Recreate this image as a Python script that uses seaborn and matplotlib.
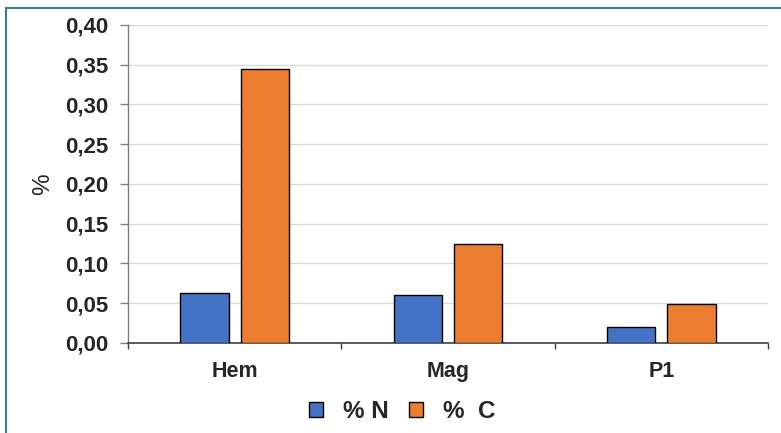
import matplotlib
matplotlib.use("Agg")
import matplotlib.pyplot as plt
from matplotlib.lines import Line2D
from matplotlib.ticker import FixedLocator, FuncFormatter
import seaborn as sns
import pandas as pd

# Sample groups and measured contents (%)
categories = ["Hem", "Mag", "P1"]
nitrogen = [0.063, 0.060, 0.020]
carbon = [0.345, 0.125, 0.049]
series_names = ["% N", "%  C"]
y_ticks = [0.00, 0.05, 0.10, 0.15, 0.20, 0.25, 0.30, 0.35, 0.40]

df = pd.DataFrame({
    "sample": categories * 2,
    "series": [series_names[0]] * len(categories) + [series_names[1]] * len(categories),
    "value": nitrogen + carbon,
})

sns.set_theme(style="white")
plt.rcParams["font.family"] = ["Liberation Sans", "DejaVu Sans"]
plt.rcParams["font.weight"] = "bold"

fig = plt.figure(figsize=(7.81, 4.33), dpi=100)
ax = fig.add_axes([0.1639, 0.2079, 0.8195, 0.7344])

palette = {series_names[0]: "#4472C4", series_names[1]: "#ED7D31"}
sns.barplot(data=df, x="sample", y="value", hue="series", palette=palette,
            width=0.567, gap=0.2, edgecolor="black", linewidth=1.0,
            saturation=1.0, ax=ax, zorder=3)

ax.set_xlim(-0.5, len(categories) - 0.5)
ax.set_ylim(0, 0.40)
ax.yaxis.set_major_locator(FixedLocator(y_ticks))
ax.yaxis.set_major_formatter(FuncFormatter(lambda v, _: f"{v:.2f}".replace(".", ",")))
ax.grid(axis="y", color="#D9D9D9", linewidth=1.0, zorder=0)
ax.set_axisbelow(True)

# Category labels centered, tick marks between categories
ax.xaxis.set_minor_locator(FixedLocator([-0.5, 0.5, 1.5, 2.5]))
ax.tick_params(axis="x", which="major", length=0, pad=13, labelsize=15.5)
ax.tick_params(axis="x", which="minor", bottom=True, length=4, width=1, color="#404040", direction="out")
ax.tick_params(axis="y", left=True, length=6, width=1, color="#808080", pad=8, labelsize=16, direction="out")
for lab in ax.get_xticklabels() + ax.get_yticklabels():
    lab.set_fontweight("bold")

for side in ("top", "right"):
    ax.spines[side].set_visible(False)
ax.spines["left"].set_color("#808080")
ax.spines["left"].set_linewidth(1.0)
ax.spines["bottom"].set_color("#404040")
ax.spines["bottom"].set_linewidth(1.2)

ax.set_xlabel("")
ax.set_ylabel("%", fontsize=17.5, fontweight="normal", labelpad=8)

handles = [plt.Rectangle((0, 0), 1, 1, facecolor=palette[s], edgecolor="black", linewidth=1.0)
           for s in series_names]
ax.legend_.remove()
fig.legend(handles, series_names, loc="center", bbox_to_anchor=(0.515, 0.05), ncol=2,
           frameon=False, handlelength=0.57, handleheight=0.57, handletextpad=0.82,
           columnspacing=0.82, prop={"size": 17.5, "weight": "bold"})

# Teal frame along the top and left edges
frame_color = "#2F8585"
fig.add_artist(Line2D([0.0077, 1.0], [1 - 8 / 433, 1 - 8 / 433], transform=fig.transFigure,
                      color=frame_color, linewidth=1.5))
fig.add_artist(Line2D([0.0077, 0.0077], [0.0, 1 - 8 / 433], transform=fig.transFigure,
                      color=frame_color, linewidth=1.5))

fig.savefig("out.png", dpi=100)
